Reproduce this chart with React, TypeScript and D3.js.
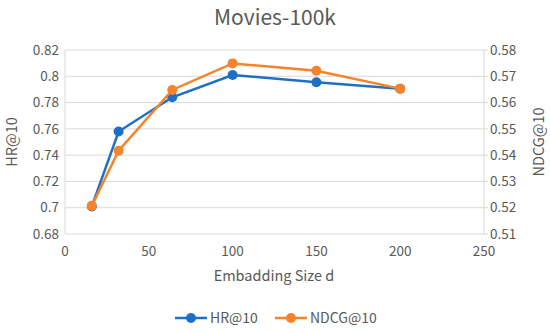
import React, { useEffect, useRef } from "react";
import * as d3 from "d3";

const sizes = [16, 32, 64, 100, 150, 200];
const hr = [0.701, 0.758, 0.784, 0.801, 0.7955, 0.7905];
const ndcg = [0.5207, 0.5417, 0.5648, 0.5749, 0.5721, 0.5653];
const xTicks = [0, 50, 100, 150, 200, 250];
const hrTicks = [0.68, 0.7, 0.72, 0.74, 0.76, 0.78, 0.8, 0.82];
const ndcgTicks = [0.51, 0.52, 0.53, 0.54, 0.55, 0.56, 0.57, 0.58];

const FONT = "'Noto Sans CJK SC', 'Noto Sans', sans-serif";
const TEXT = "#595959";
const BLUE = "#1f6fc6";
const ORANGE = "#f5832c";

export default function App() {
  const ref = useRef(null);

  useEffect(() => {
    const svg = d3.select(ref.current);
    svg.selectAll("*").remove();

    const left = 65, right = 484, top = 50, bottom = 234;
    const x = d3.scaleLinear().domain([0, 250]).range([left, right]);
    const yL = d3.scaleLinear().domain([0.68, 0.82]).range([bottom, top]);
    const yR = d3.scaleLinear().domain([0.51, 0.58]).range([bottom, top]);

    svg.append("rect").attr("width", 550).attr("height", 331).attr("fill", "#fff");

    // grid
    svg.append("g")
      .selectAll("line")
      .data(hrTicks)
      .join("line")
      .attr("x1", left).attr("x2", right)
      .attr("y1", (d) => yL(d)).attr("y2", (d) => yL(d))
      .attr("stroke", "#d9d9d9").attr("stroke-width", 1);

    svg.append("line").attr("x1", left).attr("x2", left).attr("y1", top).attr("y2", bottom)
      .attr("stroke", "#d9d9d9");
    svg.append("line").attr("x1", right).attr("x2", right).attr("y1", top).attr("y2", bottom)
      .attr("stroke", "#d9d9d9");

    const fmt = (d) => String(+d.toFixed(2));

    svg.append("g")
      .selectAll("text")
      .data(hrTicks)
      .join("text")
      .attr("x", left - 6).attr("y", (d) => yL(d)).attr("dy", "0.35em")
      .attr("text-anchor", "end")
      .attr("font-size", 13.5).attr("fill", TEXT).attr("font-family", FONT)
      .text(fmt);

    svg.append("g")
      .selectAll("text")
      .data(ndcgTicks)
      .join("text")
      .attr("x", right + 6).attr("y", (d) => yR(d)).attr("dy", "0.35em")
      .attr("text-anchor", "start")
      .attr("font-size", 13.5).attr("fill", TEXT).attr("font-family", FONT)
      .text(fmt);

    svg.append("g")
      .selectAll("line")
      .data(ndcgTicks)
      .join("line")
      .attr("x1", right).attr("x2", right + 4)
      .attr("y1", (d) => yR(d)).attr("y2", (d) => yR(d))
      .attr("stroke", "#d9d9d9");

    svg.append("g")
      .selectAll("text")
      .data(xTicks)
      .join("text")
      .attr("x", (d) => x(d)).attr("y", bottom + 17).attr("dy", "0.35em")
      .attr("text-anchor", "middle")
      .attr("font-size", 13.5).attr("fill", TEXT).attr("font-family", FONT)
      .text((d) => d);

    // titles
    svg.append("text").attr("x", 275).attr("y", 25)
      .attr("text-anchor", "middle").attr("font-size", 21).attr("fill", TEXT)
      .attr("font-family", FONT).text("Movies-100k");
    svg.append("text").attr("x", 274).attr("y", 276).attr("dy", "0.35em")
      .attr("text-anchor", "middle").attr("font-size", 14.5).attr("fill", TEXT)
      .attr("font-family", FONT).text("Embadding Size d");
    svg.append("text").attr("transform", `translate(12,${(top + bottom) / 2}) rotate(-90)`)
      .attr("dy", "0.35em").attr("text-anchor", "middle").attr("font-size", 14.5)
      .attr("fill", TEXT).attr("font-family", FONT).text("HR@10");
    svg.append("text").attr("transform", `translate(539,${(top + bottom) / 2}) rotate(-90)`)
      .attr("dy", "0.35em").attr("text-anchor", "middle").attr("font-size", 14.5)
      .attr("fill", TEXT).attr("font-family", FONT).text("NDCG@10");

    const series = [
      { vals: hr, y: yL, color: BLUE },
      { vals: ndcg, y: yR, color: ORANGE },
    ];
    series.forEach((s) => {
      const pts = sizes.map((d, i) => [x(d), s.y(s.vals[i])]);
      svg.append("path")
        .attr("d", d3.line()(pts))
        .attr("fill", "none").attr("stroke", s.color).attr("stroke-width", 2.5);
      svg.append("g").selectAll("circle").data(pts).join("circle")
        .attr("cx", (d) => d[0]).attr("cy", (d) => d[1]).attr("r", 5)
        .attr("fill", s.color);
    });

    // legend
    const legend = [
      { name: "HR@10", color: BLUE, x0: 175 },
      { name: "NDCG@10", color: ORANGE, x0: 275 },
    ];
    const ly = 318;
    legend.forEach((l) => {
      svg.append("line").attr("x1", l.x0).attr("x2", l.x0 + 32).attr("y1", ly).attr("y2", ly)
        .attr("stroke", l.color).attr("stroke-width", 2.5);
      svg.append("circle").attr("cx", l.x0 + 16).attr("cy", ly).attr("r", 5).attr("fill", l.color);
      svg.append("text").attr("x", l.x0 + 35).attr("y", ly).attr("dy", "0.35em")
        .attr("font-size", 14).attr("fill", TEXT).attr("font-family", FONT).text(l.name);
    });
  }, []);

  return (
    <svg
      ref={ref}
      width={550}
      height={331}
      style={{ position: "absolute", left: 0, top: 0, display: "block" }}
    />
  );
}
